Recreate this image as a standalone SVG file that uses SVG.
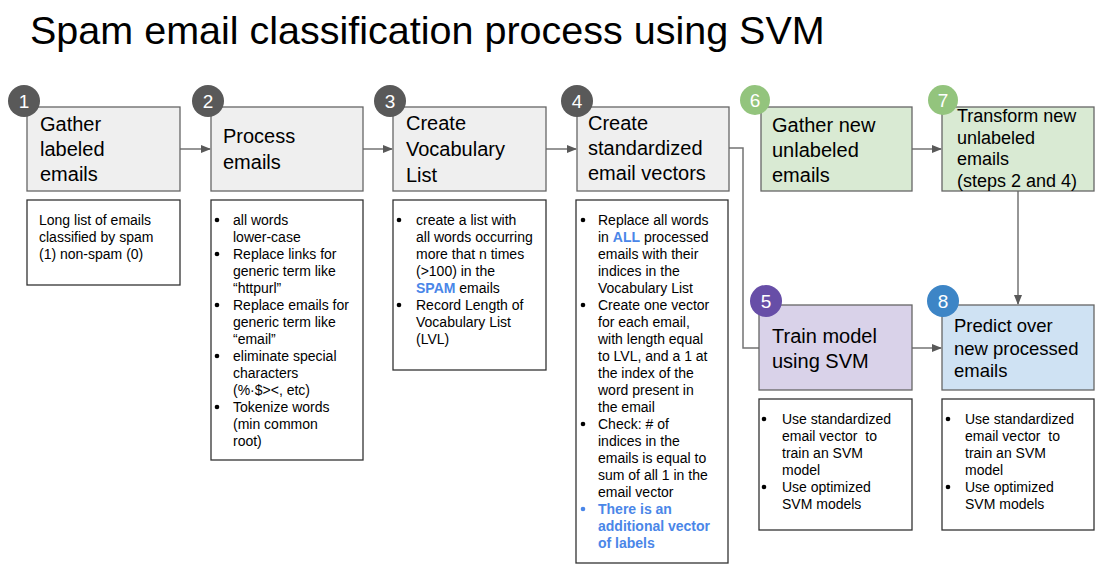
<svg xmlns="http://www.w3.org/2000/svg" width="1106" height="569" viewBox="0 0 1106 569">
<defs>
<marker id="arr" markerWidth="10" markerHeight="10" refX="9" refY="5" orient="auto" markerUnits="userSpaceOnUse">
<path d="M0,1 L10,5 L0,9 Z" fill="#595959"/>
</marker>
<style>
text{font-family:"Liberation Sans",Arial,sans-serif;fill:#000}
.title{font-size:39.5px}
.step{stroke:#666;stroke-width:1.3}
.g{fill:#efefef}.gr{fill:#d9ead3}.pu{fill:#d9d2e9}.bl{fill:#cfe2f3}
.lbl{font-size:20px}
.lbl7{font-size:18px}
.lbl8{font-size:18.5px}
.num{font-size:19px;fill:#fff;text-anchor:middle}
.note{fill:#fff;stroke:#333;stroke-width:1.3}
.t{font-size:14px}
.hi{fill:#4a86e8;font-weight:bold}
.dot{fill:#000}
.dotb{fill:#4a86e8}
.conn{fill:none;stroke:#737373;stroke-width:1.5}
</style>
</defs>
<rect width="1106" height="569" fill="#fff"/>
<text class="title" x="30" y="44">Spam email classification process using SVM</text>

<g id="connectors">
<line class="conn" x1="180" y1="149" x2="210" y2="149" marker-end="url(#arr)"/>
<line class="conn" x1="363" y1="149" x2="392" y2="149" marker-end="url(#arr)"/>
<line class="conn" x1="546" y1="149" x2="576" y2="149" marker-end="url(#arr)"/>
<line class="conn" x1="912" y1="149" x2="941" y2="149" marker-end="url(#arr)"/>
<polyline class="conn" points="729,148 743,148 743,348 759,348"/>
<line class="conn" x1="912" y1="348" x2="941" y2="348" marker-end="url(#arr)"/>
<line class="conn" x1="1018" y1="191" x2="1018" y2="304" marker-end="url(#arr)"/>
</g>

<g id="step1">
<rect class="step g" x="27" y="107" width="153" height="84"/>
<circle cx="24" cy="101" r="16" fill="#595959"/>
<text class="num" x="24" y="108">1</text>
<text class="lbl" x="40" y="131">Gather</text>
<text class="lbl" x="40" y="156">labeled</text>
<text class="lbl" x="40" y="181">emails</text>
</g>
<g id="note1">
<rect class="note" x="27" y="200" width="153" height="85"/>
<text class="t" x="39" y="225">Long list of emails</text>
<text class="t" x="39" y="242">classified by spam</text>
<text class="t" x="39" y="259">(1) non-spam (0)</text>
</g>

<g id="step2">
<rect class="step g" x="211" y="107" width="152" height="84"/>
<circle cx="208" cy="101" r="16" fill="#595959"/>
<text class="num" x="208" y="108">2</text>
<text class="lbl" x="223" y="143">Process</text>
<text class="lbl" x="223" y="169">emails</text>
</g>
<g id="note2">
<rect class="note" x="211" y="200" width="152" height="260"/>
<g class="dot"><circle cx="217" cy="220" r="2.3"/><circle cx="217" cy="254" r="2.3"/><circle cx="217" cy="305" r="2.3"/><circle cx="217" cy="356" r="2.3"/><circle cx="217" cy="407" r="2.3"/></g>
<text class="t" x="233" y="225">all words</text>
<text class="t" x="233" y="242">lower-case</text>
<text class="t" x="233" y="259">Replace links for</text>
<text class="t" x="233" y="276">generic term like</text>
<text class="t" x="233" y="293">“httpurl”</text>
<text class="t" x="233" y="310">Replace emails for</text>
<text class="t" x="233" y="327">generic term like</text>
<text class="t" x="233" y="344">“email”</text>
<text class="t" x="233" y="361">eliminate special</text>
<text class="t" x="233" y="378">characters</text>
<text class="t" x="233" y="395">(%·$&gt;&lt;, etc)</text>
<text class="t" x="233" y="412">Tokenize words</text>
<text class="t" x="233" y="429">(min common</text>
<text class="t" x="233" y="446">root)</text>
</g>

<g id="step3">
<rect class="step g" x="393" y="107" width="153" height="84"/>
<circle cx="390" cy="101" r="16" fill="#595959"/>
<text class="num" x="390" y="108">3</text>
<text class="lbl" x="406" y="130">Create</text>
<text class="lbl" x="406" y="156">Vocabulary</text>
<text class="lbl" x="406" y="182">List</text>
</g>
<g id="note3">
<rect class="note" x="393" y="200" width="153" height="170"/>
<g class="dot"><circle cx="399" cy="220" r="2.3"/><circle cx="399" cy="305" r="2.3"/></g>
<text class="t" x="416" y="225">create a list with</text>
<text class="t" x="416" y="242">all words occurring</text>
<text class="t" x="416" y="259">more that n times</text>
<text class="t" x="416" y="276">(&gt;100) in the</text>
<text class="t" x="416" y="293"><tspan class="hi">SPAM</tspan> emails</text>
<text class="t" x="416" y="310">Record Length of</text>
<text class="t" x="416" y="327">Vocabulary List</text>
<text class="t" x="416" y="344">(LVL)</text>
</g>

<g id="step4">
<rect class="step g" x="577" y="107" width="152" height="84"/>
<circle cx="577" cy="101" r="16" fill="#595959"/>
<text class="num" x="577" y="108">4</text>
<text class="lbl" x="588" y="130">Create</text>
<text class="lbl" x="588" y="155">standardized</text>
<text class="lbl" x="588" y="180">email vectors</text>
</g>
<g id="note4">
<rect class="note" x="576" y="200" width="152" height="363"/>
<g class="dot"><circle cx="583" cy="220" r="2.3"/><circle cx="583" cy="305" r="2.3"/><circle cx="583" cy="424" r="2.3"/></g>
<circle class="dotb" cx="583" cy="509" r="2.3"/>
<text class="t" x="598" y="225">Replace all words</text>
<text class="t" x="598" y="242">in <tspan class="hi">ALL</tspan> processed</text>
<text class="t" x="598" y="259">emails with their</text>
<text class="t" x="598" y="276">indices in the</text>
<text class="t" x="598" y="293">Vocabulary List</text>
<text class="t" x="598" y="310">Create one vector</text>
<text class="t" x="598" y="327">for each email,</text>
<text class="t" x="598" y="344">with length equal</text>
<text class="t" x="598" y="361">to LVL, and a 1 at</text>
<text class="t" x="598" y="378">the index of the</text>
<text class="t" x="598" y="395">word present in</text>
<text class="t" x="598" y="412">the email</text>
<text class="t" x="598" y="429">Check: # of</text>
<text class="t" x="598" y="446">indices in the</text>
<text class="t" x="598" y="463">emails is equal to</text>
<text class="t" x="598" y="480">sum of all 1 in the</text>
<text class="t" x="598" y="497">email vector</text>
<text class="t hi" x="598" y="514">There is an</text>
<text class="t hi" x="598" y="531">additional vector</text>
<text class="t hi" x="598" y="548">of labels</text>
</g>

<g id="step6">
<rect class="step gr" x="761" y="107" width="151" height="84"/>
<circle cx="755" cy="100" r="15" fill="#93c47d"/>
<text class="num" x="755" y="107">6</text>
<text class="lbl" x="772" y="132">Gather new</text>
<text class="lbl" x="772" y="157">unlabeled</text>
<text class="lbl" x="772" y="182">emails</text>
</g>

<g id="step7">
<rect class="step gr" x="942" y="107" width="152" height="84"/>
<circle cx="943" cy="100" r="15" fill="#93c47d"/>
<text class="num" x="943" y="107">7</text>
<text class="lbl7" x="957" y="122">Transform new</text>
<text class="lbl7" x="957" y="144">unlabeled</text>
<text class="lbl7" x="957" y="165">emails</text>
<text class="lbl7" x="957" y="187">(steps 2 and 4)</text>
</g>

<g id="step5">
<rect class="step pu" x="759" y="305" width="153" height="85"/>
<circle cx="766" cy="301" r="16" fill="#674ea7"/>
<text class="num" x="766" y="308">5</text>
<text class="lbl" x="772" y="343">Train model</text>
<text class="lbl" x="772" y="368">using SVM</text>
</g>
<g id="note5">
<rect class="note" x="759" y="399" width="153" height="131"/>
<g class="dot"><circle cx="764" cy="419" r="2.3"/><circle cx="764" cy="487" r="2.3"/></g>
<text class="t" x="782" y="424">Use standardized</text>
<text class="t" x="782" y="441" xml:space="preserve">email vector  to</text>
<text class="t" x="782" y="458">train an SVM</text>
<text class="t" x="782" y="475">model</text>
<text class="t" x="782" y="492">Use optimized</text>
<text class="t" x="782" y="509">SVM models</text>
</g>

<g id="step8">
<rect class="step bl" x="942" y="305" width="152" height="85"/>
<circle cx="943" cy="301" r="16" fill="#3d85c6"/>
<text class="num" x="943" y="308">8</text>
<text class="lbl8" x="954" y="332">Predict over</text>
<text class="lbl8" x="954" y="355">new processed</text>
<text class="lbl8" x="954" y="377">emails</text>
</g>
<g id="note8">
<rect class="note" x="942" y="399" width="152" height="131"/>
<g class="dot"><circle cx="948" cy="419" r="2.3"/><circle cx="948" cy="487" r="2.3"/></g>
<text class="t" x="965" y="424">Use standardized</text>
<text class="t" x="965" y="441" xml:space="preserve">email vector  to</text>
<text class="t" x="965" y="458">train an SVM</text>
<text class="t" x="965" y="475">model</text>
<text class="t" x="965" y="492">Use optimized</text>
<text class="t" x="965" y="509">SVM models</text>
</g>
</svg>
